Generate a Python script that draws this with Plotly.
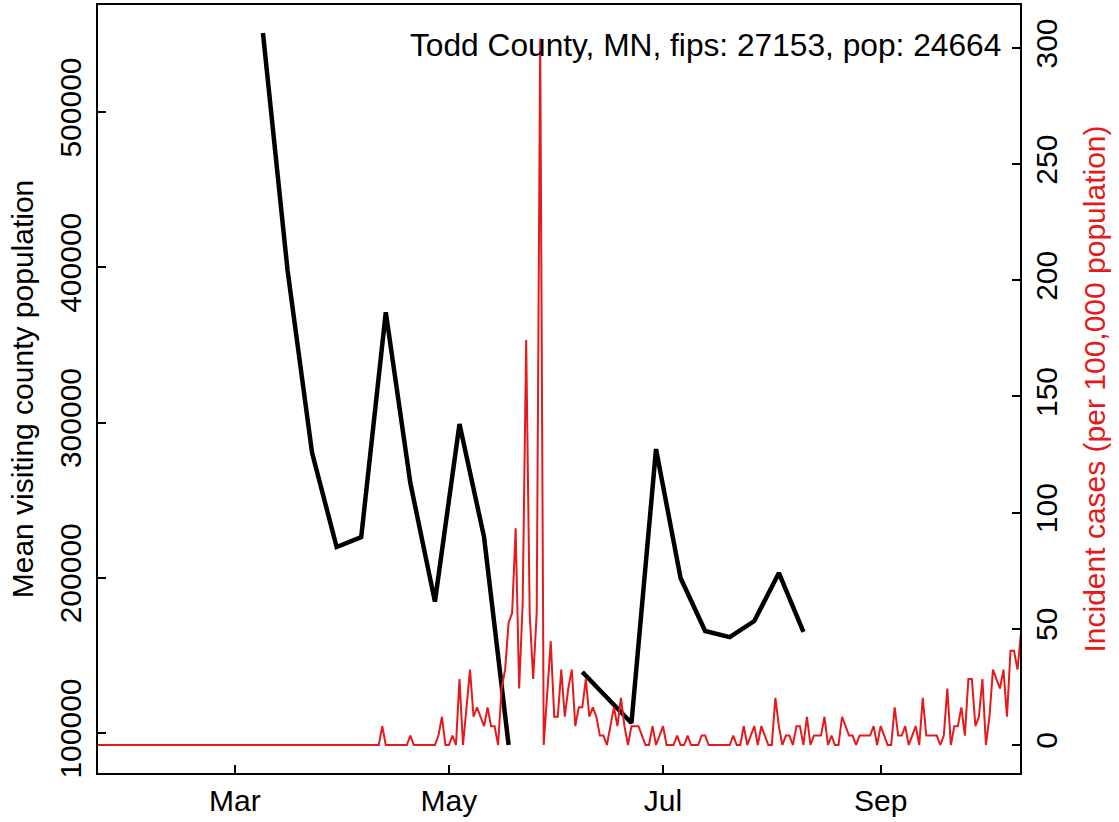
import pandas as pd
import plotly.graph_objects as go

# Weekly mean visiting county population (black line); None = missing week
visit_dates = ["2020-03-09", "2020-03-16", "2020-03-23", "2020-03-30", "2020-04-06",
               "2020-04-13", "2020-04-20", "2020-04-27", "2020-05-04", "2020-05-11",
               "2020-05-18", "2020-05-25", "2020-06-01", "2020-06-08", "2020-06-15",
               "2020-06-22", "2020-06-29", "2020-07-06", "2020-07-13", "2020-07-20",
               "2020-07-27", "2020-08-03", "2020-08-10"]
visit_pop = [550900, 398200, 280400, 219800, 226200,
             371000, 261000, 184600, 299000, 226200,
             92300, None, None, 139300, 123200,
             106400, 282900, 199800, 165700, 161800,
             172100, 203100, 165100]

# Daily incident cases per 100,000 population (red line), from 2020-01-22
case_start = "2020-01-22"
incident = (
    [0.0] * 81 +
    [8.11, 0, 0, 0, 0, 0, 0, 0, 4.05, 0, 0, 0, 0, 0, 0, 0,            # d81-96
     4.05, 12.16, 0, 0, 4.05, 0, 28.38, 0, 16.22, 32.44,               # d97-106
     12.16, 16.22, 12.16, 8.11, 16.22, 8.11, 8.11, 0, 24.33, 32.44,    # d107-116
     52.71, 56.76, 93.25, 24.33, 60.82, 174.34, 56.76, 28.38, 56.76, 304.09,  # d117-126
     0, 20.27, 44.60, 12.16, 12.16, 32.44, 12.16, 24.33, 32.44, 8.11,  # d127-136
     16.22, 16.22, 28.38, 12.16, 16.22, 12.16, 4.05, 4.05, 0, 8.11,    # d137-146
     16.22, 8.11, 20.27, 8.11, 0, 8.11, 8.11, 8.11, 4.05, 0,           # d147-156
     0, 8.11, 0, 4.05, 8.11, 0, 0, 0, 4.05, 0,                         # d157-166
     0, 4.05, 0, 0, 0, 4.05, 4.05, 0, 0, 0,                            # d167-176
     0, 0, 0, 0, 4.05, 0, 0, 8.11, 0, 4.05,                            # d177-186
     8.11, 0, 8.11, 4.05, 0, 0, 20.27, 8.11, 0, 4.05,                  # d187-196
     4.05, 0, 8.11, 8.11, 0, 12.16, 0, 4.05, 4.05, 4.05,               # d197-206
     12.16, 0, 4.05, 0, 0, 12.16, 8.11, 4.05, 4.05, 0,                 # d207-216
     4.05, 4.05, 4.05, 4.05, 8.11, 0, 8.11, 4.05, 0, 0,                # d217-226
     16.22, 4.05, 4.05, 8.11, 0, 4.05, 8.11, 0, 20.27, 4.05,           # d227-236
     4.05, 4.05, 4.05, 0, 4.05, 24.33, 0, 8.11, 8.11, 16.22,           # d237-246
     4.05, 28.38, 28.38, 8.11, 12.16, 28.38, 0, 12.16, 32.44, 28.38,   # d247-256
     24.33, 32.44, 12.16, 40.55, 40.55, 32.44, 48.65]                  # d257-263
)
case_dates = pd.date_range(case_start, periods=len(incident), freq="D")

tick_dates = ["2020-03-01", "2020-05-01", "2020-07-01", "2020-09-01"]
tick_text = ["Mar", "May", "Jul", "Sep"]
left_ticks = [100000, 200000, 300000, 400000, 500000]
right_ticks = [0, 50, 100, 150, 200, 250, 300]

title_text = "Todd County, MN, fips: 27153, pop: 24664"
red = "#E41A1C"
FONT = "Liberation Sans, Arial, Helvetica, sans-serif"
FS = 30

fig = go.Figure()
fig.add_trace(go.Scatter(x=pd.to_datetime(visit_dates), y=visit_pop, mode="lines",
                         line=dict(color="black", width=4.5), connectgaps=False,
                         yaxis="y", showlegend=False))
fig.add_trace(go.Scatter(x=case_dates, y=incident, mode="lines",
                         line=dict(color=red, width=2),
                         yaxis="y2", showlegend=False))

fig.update_layout(
    width=1119, height=822,
    margin=dict(l=98, r=99, t=5, b=49, autoexpand=False),
    paper_bgcolor="white", plot_bgcolor="white",
    font=dict(family=FONT, size=FS, color="black"),
    xaxis=dict(type="date", range=["2020-01-22 00:00", "2020-10-10 17:00"],
               tickvals=tick_dates, ticktext=tick_text,
               ticks="inside", ticklen=8, tickwidth=2, tickcolor="black",
               showline=True, linecolor="black", linewidth=2, mirror=True,
               showgrid=False, zeroline=False, ticklabelstandoff=0),
    yaxis=dict(range=[74235, 568921], tickvals=left_ticks,
               ticktext=[str(v) for v in left_ticks], tickangle=-90,
               ticks="inside", ticklen=8, tickwidth=2, tickcolor="black",
               showline=True, linecolor="black", linewidth=2, mirror=True,
               showgrid=False, zeroline=False, ticklabelstandoff=3,
               title=dict(text="Mean visiting county population",
                          font=dict(size=FS, color="black"), standoff=12)),
    yaxis2=dict(range=[-12.05, 318.5], overlaying="y", side="right",
                tickvals=right_ticks, tickangle=-90,
                ticks="inside", ticklen=8, tickwidth=2, tickcolor="black",
                showline=True, linecolor="black", linewidth=2,
                showgrid=False, zeroline=False, ticklabelstandoff=-1,
                title=dict(text="Incident cases (per 100,000 population)",
                           font=dict(size=FS, color=red), standoff=22)),
    annotations=[dict(text=title_text, xref="paper", yref="paper",
                      x=(1003 - 98) / 922, y=(773 - 45) / 768,
                      xanchor="right", yanchor="middle", showarrow=False,
                      font=dict(size=31.7, color="black"))],
)

fig.write_html("out.html", config={"displayModeBar": False},
               post_script="document.body.style.margin='0';document.body.style.padding='0';")
